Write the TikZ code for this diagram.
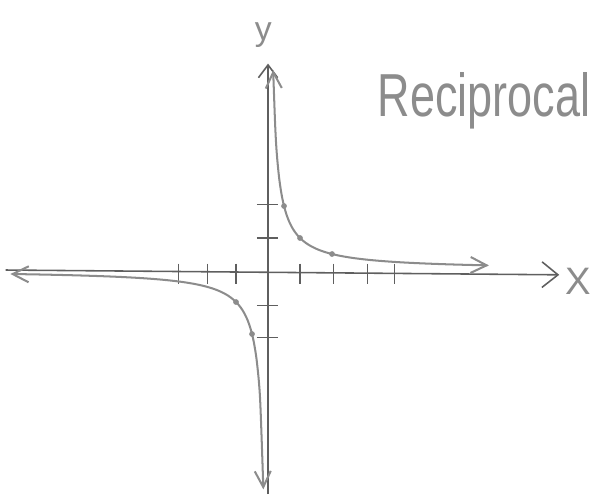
\documentclass[tikz,border=0pt]{standalone}
\usepackage{fontspec}
\setmainfont{Liberation Sans}
\usepackage{xcolor}
\usetikzlibrary{arrows.meta}
\definecolor{pencil}{RGB}{95,95,95}
\definecolor{pencilgray}{RGB}{140,140,140}

\begin{document}
\begin{tikzpicture}[x=0.5cm,y=0.5cm,
  axis/.style={pencil, line width=0.7pt},
  branch/.style={pencilgray, line width=0.9pt, {Straight Barb[length=2.5mm,width=2.5mm]}-{Straight Barb[length=2.5mm,width=2.5mm]}},
  tickmark/.style={pencil, line width=0.5pt},
  hand/.style={pencilgray, inner sep=0pt}]

% Frame
\useasboundingbox (-8.375,-7.156) rectangle (10.28,8.4375);

% Axes
\coordinate (xl) at (-8.2,0);
\coordinate (xr) at (9.1,-0.15);
\coordinate (yb) at (0,-7.0);
\coordinate (yt) at (0,6.45);
\draw[axis, -{Straight Barb[length=2.5mm,width=4mm]}] (xl) -- (xr); % X-axis
\draw[axis, -{Straight Barb[length=2mm,width=3mm]}] (yb) -- (yt); % Y-axis

% Labels
\node[hand, font=\fontsize{15}{15}\selectfont] (ylab) at (-0.15,7.35) {y};
\node[hand, font=\fontsize{17}{17}\selectfont] (xlab) at (9.7,-0.35) {X};
\node[hand, font=\fontsize{20}{20}\selectfont, yscale=1.35] (title) at (6.75,5.3) {Reciprocal};

% X-axis ticks
\foreach \x in {-2.8,-1.9,-1,1,2.05,3.1,3.95} {
    \draw[tickmark] (\x,0.2) -- (\x,-0.45);
}

% Y-axis ticks
\foreach \y in {-2.1,-1.1,1,2.05} {
    \draw[tickmark] (-0.35,\y) -- (0.3,\y);
}

% Curve y = 1/x
\draw[branch] plot[domain=0.16:6.9, samples=80, smooth] (\x,{1/\x});
\draw[branch] plot[domain=-8.05:-0.145, samples=80, smooth] (\x,{1/\x});

% Plotted points
\foreach \px/\py in {0.5/2,1/1,2/0.5,-1/-1,-0.5/-2} {
    \fill[pencilgray] (\px,\py) circle (0.09);
}

\end{tikzpicture}
\end{document}
